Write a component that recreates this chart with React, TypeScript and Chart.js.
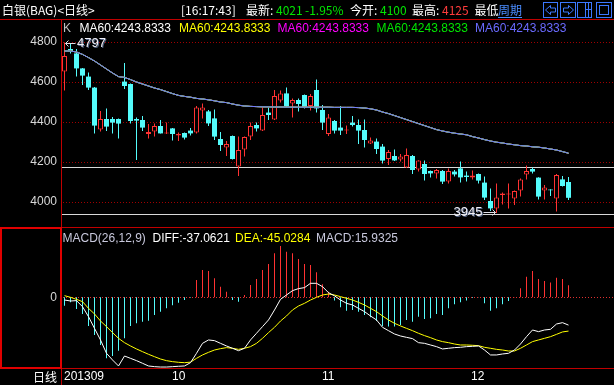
import React, { useEffect, useRef } from "react";
import { Chart, registerables } from "chart.js";

Chart.register(...registerables);

// ---------- data ----------
const opens = [
  4652, 4765, 4743, 4668, 4627, 4572, 4363, 4415, 4415, 4415,
  4602, 4590, 4415, 4410, 4340, 4352, 4380, 4342, 4368, 4332,
  4345, 4357, 4347, 4457, 4453, 4418, 4315, 4272, 4330, 4177,
  4262, 4327, 4385, 4357, 4447, 4413, 4507, 4543, 4493, 4510,
  4535, 4480, 4560, 4460, 4340, 4405, 4372, 4357, 4397, 4385,
  4360, 4293, 4302, 4277, 4215, 4230, 4213, 4173, 4230, 4163,
  4190, 4155, 4143, 4155, 4102, 4152, 4168, 4132, 4123, 4140,
  4097, 4005, 3968, 4035, 4038, 4018, 4057, 4138, 4165, 4122,
  4057, 4062, 4018, 4113, 4100,
];
const highs = [
  4797, 4790, 4765, 4670, 4648, 4575, 4455, 4468, 4425, 4418,
  4695, 4592, 4422, 4430, 4390, 4392, 4410, 4397, 4370, 4348,
  4347, 4370, 4480, 4493, 4460, 4463, 4350, 4305, 4332, 4327,
  4327, 4397, 4397, 4473, 4473, 4560, 4557, 4573, 4518, 4518,
  4537, 4540, 4613, 4485, 4440, 4410, 4480, 4382, 4430, 4413,
  4413, 4322, 4318, 4290, 4260, 4263, 4240, 4268, 4235, 4209,
  4207, 4157, 4165, 4160, 4168, 4160, 4202, 4152, 4157, 4142,
  4127, 4068, 4093, 4048, 4093, 4057, 4118, 4182, 4172, 4124,
  4085, 4064, 4140, 4130, 4125,
];
const lows = [
  4557, 4743, 4627, 4585, 4560, 4342, 4352, 4355, 4342, 4317,
  4565, 4393, 4210, 4355, 4317, 4327, 4342, 4340, 4307, 4305,
  4313, 4332, 4343, 4418, 4380, 4310, 4255, 4230, 4213, 4130,
  4227, 4310, 4352, 4355, 4410, 4410, 4498, 4472, 4422, 4452,
  4468, 4457, 4447, 4360, 4330, 4343, 4335, 4340, 4377, 4290,
  4273, 4290, 4240, 4193, 4185, 4205, 4202, 4170, 4140, 4152,
  4107, 4123, 4118, 4090, 4093, 4127, 4097, 4102, 4113, 4093,
  4010, 3955, 3945, 3988, 3968, 3985, 4027, 4113, 4143, 4013,
  4013, 4030, 3952, 4077, 4010,
];
const closes = [
  4730, 4752, 4668, 4632, 4572, 4382, 4415, 4377, 4397, 4392,
  4580, 4405, 4407, 4372, 4350, 4380, 4343, 4348, 4340, 4340,
  4322, 4343, 4473, 4473, 4393, 4327, 4285, 4290, 4215, 4260,
  4325, 4380, 4368, 4435, 4435, 4530, 4543, 4477, 4510, 4490,
  4473, 4530, 4468, 4397, 4423, 4357, 4357, 4363, 4385, 4357,
  4310, 4307, 4265, 4207, 4250, 4208, 4227, 4235, 4160, 4207,
  4140, 4143, 4160, 4102, 4155, 4138, 4123, 4125, 4132, 4107,
  4022, 3968, 4023, 4043, 4043, 4055, 4113, 4155, 4152, 4027,
  4073, 4059, 4135, 4080, 4021,
];
const ma60 = [
  4755, 4755, 4750, 4738, 4722, 4705, 4685, 4665, 4645, 4627,
  4623, 4612, 4600, 4590, 4580, 4570, 4562, 4552, 4542, 4533,
  4528, 4524, 4518, 4515, 4511, 4506, 4500, 4497, 4490, 4484,
  4480, 4478, 4477, 4476, 4476, 4475, 4475, 4474, 4474, 4474,
  4474, 4474, 4474, 4474, 4474, 4473, 4473, 4473, 4473, 4472,
  4470, 4466, 4460, 4450, 4442, 4432, 4422, 4412, 4402, 4392,
  4382, 4372, 4362, 4355, 4349, 4344, 4340, 4336, 4327, 4320,
  4312, 4305, 4299, 4295, 4290, 4286, 4282, 4280, 4276, 4274,
  4270, 4265, 4260, 4252, 4244,
];
const diffLine = [
  -3.6, -4.9, -4.4, -12.5, -25.8, -41.4, -56.9, -74.7, -83.6, -91.6,
  -78.3, -81.4, -84.5, -88.0, -91.6, -92.5, -93, -93, -92.5, -92,
  -91.6, -87.2, -74.7, -61.4, -56.9, -57.8, -61.4, -64.9, -68.0, -71.2,
  -68.0, -56.9, -48.0, -39.1, -30.2, -16.9, -2.7, 3.1, 8.9, 11.6,
  12.9, 18.7, 18.7, 14.2, 6.2, 2.0, -3.6, -8.0, -10.2, -14.7,
  -19.1, -24.9, -30.2, -40.0, -44.5, -48.9, -51.6, -53.4, -55.1, -60.5,
  -61.4, -63.6, -65.8, -68.9, -68.0, -67.1, -66.7, -65.8, -65.4, -64.9,
  -70.3, -76.9, -76.9, -75.6, -74.7, -70.3, -62.3, -52.5, -43.6, -45.8,
  -43.6, -42.7, -35.6, -33.8, -37.06,
];
const deaLine = [
  2.2, 0, -2.7, -5.8, -14.7, -22.2, -31.6, -39.1, -47.1, -54.7,
  -60.5, -64.9, -68.9, -72.5, -76.0, -79.2, -82.3, -84.5, -85.8, -86.7,
  -87.2, -86.5, -81.4, -76.9, -73.4, -70.3, -68.5, -67.1, -68.0, -69.4,
  -68.0, -65.8, -61.4, -54.7, -47.1, -40.0, -31.6, -24.9, -16.9, -11.6,
  -8.0, -3.6, 0, 3.1, 4.4, 3.1, 0.9, -1.3, -3.6, -6.7,
  -10.2, -14.7, -19.1, -24.9, -30.2, -34.7, -38.2, -41.4, -44.5, -48.0,
  -51.1, -53.8, -56.9, -59.1, -60.5, -62.3, -63.6, -63.6, -64.0, -64.5,
  -66.7, -68.0, -69.4, -70.3, -71.6, -71.6, -68.0, -63.6, -59.1, -56.9,
  -54.7, -52.5, -49.4, -46.2, -45.03,
];
const macdHist = [
  -11.2, -6.7, -15.6, -22.3, -38.3, -50.3, -63.6, -81.4, -78.3, -71.2,
  -54.7, -38.3, -34.7, -32.5, -31.2, -23.6, -19.2, -14.7, -10.7, -7.2,
  -3.6, -0.5, 23.1, 36.4, 35.1, 25.3, 14.1, 7.5, -3.6, -5.8,
  3.1, 16.4, 24.4, 36.4, 44.4, 58.7, 68.4, 60.8, 58.7, 51.1,
  44.4, 43.1, 33.3, 17.3, 7.5, -4.4, -13.3, -17.8, -16.9, -19.1,
  -23.6, -26.7, -31.6, -38.2, -39.1, -39.1, -36.9, -30.2, -32.5, -25.8,
  -28.9, -28.0, -22.2, -23.6, -14.7, -9.3, -6.7, -4.4, -0.9, -0.4,
  -8.0, -17.8, -14.7, -9.3, -4.9, 0.3, 12.0, 27.6, 35.1, 24.5,
  21.8, 19.6, 26.2, 24.5, 15.93,
];
const priceTicks = [4000, 4200, 4400, 4600, 4800];
const drawnLines = [4173, 3939];
const monthLabels = ["201309", "10", "11", "12"];
const monthStarts = [0, 18, 43, 68];
const maLegend = [
  { text: "MA60:4243.8333", color: "#ffffff", x: 79.5 },
  { text: "MA60:4243.8333", color: "#ffff00", x: 179 },
  { text: "MA60:4243.8333", color: "#ff00ff", x: 277.5 },
  { text: "MA60:4243.8333", color: "#00e600", x: 376.5 },
  { text: "MA60:4243.8333", color: "#6a6aff", x: 475 },
];
const maColors = ["#ffffff", "#ffff00", "#ff00ff", "#00e600", "#7a7aff"];
const macdLegend = [
  { text: "MACD(26,12,9)", color: "#c8c8dc", x: 62.5 },
  { text: "DIFF:-37.0621", color: "#ffffff", x: 152.5 },
  { text: "DEA:-45.0284", color: "#ffff00", x: 235 },
  { text: "MACD:15.9325", color: "#c8c8dc", x: 316 },
];
const header = [
  { text: "白银(BAG)<日线>", color: "#ffffff", x: 2 },
  { text: "[16:17:43]", color: "#ffffff", x: 181 },
  { text: "最新:", color: "#ffffff", x: 246 },
  { text: "4021", color: "#00e600", x: 276 },
  { text: "-1.95%", color: "#00e600", x: 305 },
  { text: "今开:", color: "#ffffff", x: 350 },
  { text: "4100", color: "#00e600", x: 380 },
  { text: "最高:", color: "#ffffff", x: 412 },
  { text: "4125", color: "#ff3c3c", x: 442 },
  { text: "最低", color: "#ffffff", x: 474.5 },
];

const UP = "#ff3232";
const DOWN = "#54fcfc";
const BORDER = "#c00000";
const LATIN = "'Liberation Sans', Arial, sans-serif";
const CJK = "'Noto Sans CJK SC', 'Liberation Sans', sans-serif";
const XMIN = -0.5 - 1 / 12;
const XMAX = XMIN + 553 / 6;

export default function App() {
  const ref = useRef<HTMLCanvasElement>(null);

  useEffect(() => {
    document.body.style.margin = "0";
    document.body.style.background = "#000";
    const canvas = ref.current!;
    const n = closes.length;
    const up = (i: number) => closes[i] >= opens[i];
    const idx = Array.from({ length: n }, (_, i) => i);

    const text = (ctx: CanvasRenderingContext2D, t: string, x: number, y: number, color: string, font: string, align: CanvasTextAlign = "left") => {
      ctx.font = font;
      ctx.fillStyle = color;
      ctx.textAlign = align;
      ctx.textBaseline = "middle";
      ctx.fillText(t, x, y);
    };

    const deco = {
      id: "deco",
      beforeDraw(chart: any) {
        const ctx = chart.ctx as CanvasRenderingContext2D;
        ctx.save();
        ctx.fillStyle = "#000";
        ctx.fillRect(0, 0, chart.width, chart.height);
        ctx.restore();
      },
      beforeDatasetsDraw(chart: any) {
        const ctx = chart.ctx as CanvasRenderingContext2D;
        const a = chart.chartArea;
        const y = chart.scales.y;
        const y2 = chart.scales.y2;
        ctx.save();
        ctx.fillStyle = "#a00000";
        priceTicks.forEach((v) => {
          const py = Math.round(y.getPixelForValue(v));
          for (let x = a.left + 2; x < a.right; x += 3) ctx.fillRect(x, py, 1, 1);
        });
        ctx.fillStyle = "#d8d8d8";
        drawnLines.forEach((v) => {
          const py = Math.round(y.getPixelForValue(v));
          ctx.fillRect(a.left, py, a.right - a.left, 1);
        });
        ctx.fillStyle = "#e03030";
        const pz = Math.round(y2.getPixelForValue(0));
        for (let x = a.left + 2; x < a.right; x += 3) ctx.fillRect(x, pz, 1, 1);
        ctx.restore();
      },
      afterDraw(chart: any) {
        const ctx = chart.ctx as CanvasRenderingContext2D;
        const xs = chart.scales.x;
        const y = chart.scales.y;
        const y2 = chart.scales.y2;
        const W = chart.width;
        ctx.save();
        // borders
        ctx.fillStyle = BORDER;
        ctx.fillRect(0, 19, W, 1);
        ctx.fillRect(61, 19, 1, chart.height - 19);
        ctx.fillRect(0, 227, W, 1);
        ctx.fillRect(0, 368, W, 1);
        ctx.fillStyle = "#e00000";
        ctx.fillRect(0, 227, 62, 2);
        ctx.fillRect(0, 367, 62, 2);
        ctx.fillRect(0, 227, 2, 142);
        ctx.fillRect(60, 227, 2, 142);

        // price axis labels
        priceTicks.forEach((v) => {
          text(ctx, String(v), 57, y.getPixelForValue(v), "#d8d8d8", `12px ${LATIN}`, "right");
        });
        text(ctx, "0", 57, y2.getPixelForValue(0), "#d8d8d8", `12px ${LATIN}`, "right");

        // legends
        text(ctx, "K", 63, 28.5, "#c0c0c0", `12px ${LATIN}`);
        maLegend.forEach((m) => text(ctx, m.text, m.x, 28.5, m.color, `12px ${LATIN}`));
        macdLegend.forEach((m) => text(ctx, m.text, m.x, 238.5, m.color, `12px ${LATIN}`));

        // header
        header.forEach((h) => text(ctx, h.text, h.x, 10, h.color, `12px ${CJK}`));
        text(ctx, "周期", 498, 10, "#4a8cff", `12px ${CJK}`);
        ctx.fillStyle = "#4a8cff";
        ctx.fillRect(498, 17, 24, 1);

        // header buttons
        ctx.strokeStyle = "#3c78ff";
        ctx.lineWidth = 1;
        const boxes = [[543.5, 2.5, 14, 15], [560.5, 2.5, 15, 15], [577.5, 2.5, 14, 15], [596.5, 2.5, 15, 15]];
        boxes.forEach((b) => ctx.strokeRect(b[0], b[1], b[2], b[3]));
        ctx.beginPath();
        ctx.moveTo(545.5, 10); ctx.lineTo(550.5, 5.5); ctx.lineTo(550.5, 8); ctx.lineTo(555.5, 8);
        ctx.lineTo(555.5, 12); ctx.lineTo(550.5, 12); ctx.lineTo(550.5, 14.5); ctx.closePath();
        ctx.stroke();
        ctx.beginPath();
        ctx.moveTo(573.5, 10); ctx.lineTo(568.5, 5.5); ctx.lineTo(568.5, 8); ctx.lineTo(563.5, 8);
        ctx.lineTo(563.5, 12); ctx.lineTo(568.5, 12); ctx.lineTo(568.5, 14.5); ctx.closePath();
        ctx.stroke();
        ctx.beginPath();
        ctx.moveTo(585.5, 3); ctx.lineTo(585.5, 17);
        ctx.moveTo(588.5, 3); ctx.lineTo(588.5, 17);
        ctx.moveTo(585.5, 9.5); ctx.lineTo(591, 9.5);
        ctx.stroke();
        ctx.strokeRect(599.5, 5.5, 9, 9);

        // bottom axis
        text(ctx, "日线", 57, 377, "#ffffff", `12px ${CJK}`, "right");
        monthStarts.forEach((m, k) => {
          text(ctx, monthLabels[k], Math.round(xs.getPixelForValue(m)) - 1, 377, "#ffffff", `12px ${LATIN}`);
        });

        // high / low marks
        let hi = 0, lo = 0;
        for (let i = 1; i < n; i++) {
          if (highs[i] > highs[hi]) hi = i;
          if (lows[i] < lows[lo]) lo = i;
        }
        const hx = xs.getPixelForValue(hi);
        const hy = Math.round(y.getPixelForValue(highs[hi])) + 0.5;
        ctx.strokeStyle = "#e0e0e8";
        ctx.beginPath();
        ctx.moveTo(hx + 1, hy); ctx.lineTo(hx + 11, hy);
        ctx.moveTo(hx + 1, hy); ctx.lineTo(hx + 4, hy - 3);
        ctx.moveTo(hx + 1, hy); ctx.lineTo(hx + 4, hy + 3);
        ctx.stroke();
        ctx.shadowColor = "#506080";
        ctx.shadowOffsetX = 1;
        ctx.shadowOffsetY = 1;
        text(ctx, String(highs[hi]), hx + 12.5, hy, "#f0f0f8", `13px ${LATIN}`);
        const lx = xs.getPixelForValue(lo);
        const ly = Math.round(y.getPixelForValue(lows[lo])) - 0.5;
        text(ctx, String(lows[lo]), lx - 14, ly, "#f0f0f8", `13px ${LATIN}`, "right");
        ctx.shadowColor = "transparent";
        ctx.beginPath();
        ctx.moveTo(lx - 13, ly); ctx.lineTo(lx - 1, ly);
        ctx.moveTo(lx - 1, ly); ctx.lineTo(lx - 4, ly - 3);
        ctx.moveTo(lx - 1, ly); ctx.lineTo(lx - 4, ly + 3);
        ctx.stroke();
        ctx.restore();
      },
    };

    const maSets = maColors.map((c, k) => ({
      type: "line" as const,
      data: idx.map((i) => ({ x: i, y: ma60[i] })),
      yAxisID: "y",
      borderColor: c,
      borderWidth: 1,
      pointRadius: 0,
      tension: 0,
      order: 4 - k,
    }));

    const chart = new Chart(canvas, {
      type: "bar",
      data: {
        datasets: [
          ...maSets,
          {
            type: "bar",
            data: idx.map((i) => ({ x: i, y: [opens[i], closes[i]] })),
            yAxisID: "y",
            backgroundColor: idx.map((i) => (up(i) ? "#000000" : DOWN)),
            borderColor: idx.map((i) => (up(i) ? UP : DOWN)),
            borderWidth: idx.map((i) => (up(i) ? 1 : 0)),
            borderSkipped: false,
            barThickness: 5,
            grouped: false,
            inflateAmount: 0,
            order: 10,
          } as any,
          {
            type: "bar",
            data: idx.map((i) => ({ x: i, y: [lows[i], highs[i]] })),
            yAxisID: "y",
            backgroundColor: idx.map((i) => (up(i) ? UP : DOWN)),
            borderWidth: 0,
            barThickness: 1,
            grouped: false,
            inflateAmount: 0,
            order: 11,
          } as any,
          {
            type: "bar",
            data: idx.map((i) => ({ x: i, y: [0, macdHist[i]] })),
            yAxisID: "y2",
            backgroundColor: idx.map((i) => (macdHist[i] >= 0 ? UP : DOWN)),
            borderWidth: 0,
            barThickness: 1,
            grouped: false,
            inflateAmount: 0,
            order: 12,
          } as any,
          {
            type: "line",
            data: idx.map((i) => ({ x: i, y: diffLine[i] })),
            yAxisID: "y2",
            borderColor: "#ffffff",
            borderWidth: 1,
            pointRadius: 0,
            tension: 0,
            order: 1,
          } as any,
          {
            type: "line",
            data: idx.map((i) => ({ x: i, y: deaLine[i] })),
            yAxisID: "y2",
            borderColor: "#ffff00",
            borderWidth: 1,
            pointRadius: 0,
            tension: 0,
            order: 2,
          } as any,
        ],
      },
      options: {
        responsive: false,
        animation: false,
        devicePixelRatio: 1,
        events: [],
        layout: { padding: { left: 61, top: 19, right: 0, bottom: 17 } },
        plugins: { legend: { display: false }, tooltip: { enabled: false } },
        scales: {
          x: { type: "linear", min: XMIN, max: XMAX, display: false, offset: false, grid: { offset: false } },
          y: { type: "linear", min: 3170, max: 4915, display: false },
          y2: { type: "linear", min: -94.3, max: 371.3, display: false },
        },
      } as any,
      plugins: [deco],
    });
    return () => chart.destroy();
  }, []);

  return <canvas ref={ref} width={614} height={385} style={{ display: "block" }} />;
}
